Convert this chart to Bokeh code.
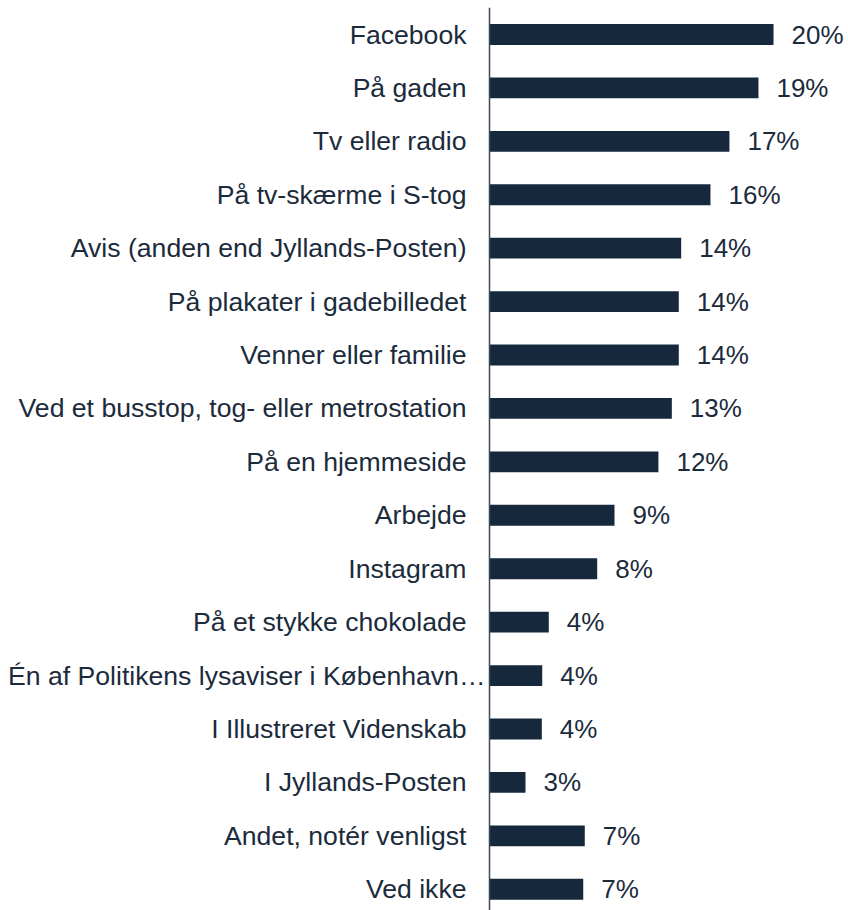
from bokeh.plotting import figure
from bokeh.models import ColumnDataSource, Range1d
from bokeh.core.properties import value
from bokeh.embed import file_html
from bokeh.resources import INLINE

categories = [
    "Facebook",
    "På gaden",
    "Tv eller radio",
    "På tv-skærme i S-tog",
    "Avis (anden end Jyllands-Posten)",
    "På plakater i gadebilledet",
    "Venner eller familie",
    "Ved et busstop, tog- eller metrostation",
    "På en hjemmeside",
    "Arbejde",
    "Instagram",
    "På et stykke chokolade",
    "Én af Politikens lysaviser i København…",
    "I Illustreret Videnskab",
    "I Jyllands-Posten",
    "Andet, notér venligst",
    "Ved ikke",
]
shares = [20.36, 19.28, 17.2, 15.84, 13.74, 13.57, 13.57, 13.07, 12.11,
          8.96, 7.72, 4.25, 3.78, 3.75, 2.58, 6.83, 6.72]
value_labels = ["20%", "19%", "17%", "16%", "14%", "14%", "14%", "13%", "12%",
                "9%", "8%", "4%", "4%", "4%", "3%", "7%", "7%"]

FONT = "Liberation Sans"
TEXT = "#1b2b3c"
BAR = "#15283c"
AXIS = "#3b4a5a"

n = len(categories)
pos = list(range(n))
truncated = [c.endswith("…") for c in categories]
cat_offset = [-4 if t else -23 for t in truncated]

src = ColumnDataSource(dict(y=pos, v=shares, lab=value_labels,
                            cat=categories, zero=[0] * n, off=cat_offset))

p = figure(width=848, height=910, output_backend="svg", toolbar_location=None,
           x_range=Range1d(-35.054, 25.735), y_range=Range1d(16.398, -0.6365),
           x_axis_location=None, y_axis_location=None,
           min_border_left=0, min_border_right=0,
           min_border_top=0, min_border_bottom=0, outline_line_color=None)
p.grid.visible = False

# bars
p.hbar(y="y", left=0, right="v", height=0.39, source=src,
       fill_color=BAR, line_color=None)

# category axis line at zero
p.segment(x0=[0], y0=[-0.5], x1=[0], y1=[n - 0.5],
          line_color=AXIS, line_width=1.5)

# category labels
p.text(x="zero", y="y", text="cat", source=src, x_offset="off",
       text_baseline="middle", text_align="right",
       text_font=value(FONT), text_font_size="26.6px", text_color=TEXT)

# value labels
p.text(x="v", y="y", text="lab", source=src, x_offset=18,
       text_baseline="middle", text_align="left",
       text_font=value(FONT), text_font_size="26px", text_color=TEXT)

open("out.html", "w").write(file_html(p, INLINE))
